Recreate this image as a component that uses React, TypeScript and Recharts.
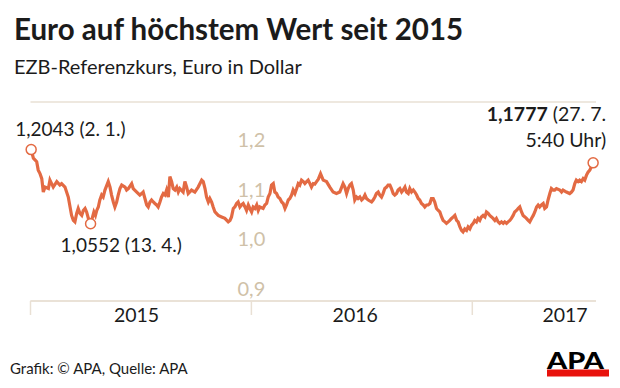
import { LineChart, Line, XAxis, YAxis, CartesianGrid, ReferenceDot } from "recharts";

// ECB reference rate, position within each year (0..1) and value in USD
const frac2015 = [
  0.003, 0.013, 0.028, 0.035, 0.043, 0.051, 0.058, 0.066, 0.081, 0.088, 0.103, 0.119, 0.133, 0.141, 0.156, 0.171,
  0.186, 0.194, 0.201, 0.209, 0.216, 0.224, 0.232, 0.239, 0.247, 0.254, 0.262, 0.272, 0.281, 0.287, 0.294, 0.3,
  0.307, 0.314, 0.322, 0.329, 0.337, 0.352, 0.36, 0.367, 0.375, 0.382, 0.39, 0.397, 0.405, 0.413, 0.428, 0.435,
  0.443, 0.458, 0.465, 0.481, 0.495, 0.503, 0.51, 0.518, 0.526, 0.533, 0.541, 0.548, 0.556, 0.563, 0.571, 0.578,
  0.586, 0.593, 0.601, 0.609, 0.616, 0.624, 0.631, 0.639, 0.646, 0.654, 0.662, 0.669, 0.676, 0.691, 0.699, 0.707,
  0.714, 0.729, 0.744, 0.759, 0.775, 0.782, 0.79, 0.797, 0.805, 0.812, 0.82, 0.827, 0.835, 0.85, 0.865, 0.88,
  0.895, 0.903, 0.91, 0.918, 0.925, 0.933, 0.94, 0.948, 0.955, 0.963, 0.971, 0.978, 0.986, 0.993,
];
const rate2015 = [
  1.2043, 1.187, 1.18, 1.163, 1.156, 1.146, 1.119, 1.129, 1.126, 1.143, 1.129, 1.14, 1.133, 1.136, 1.129, 1.109,
  1.072, 1.062, 1.059, 1.076, 1.086, 1.076, 1.072, 1.082, 1.086, 1.079, 1.066, 1.0552, 1.069, 1.079, 1.072, 1.082,
  1.089, 1.103, 1.113, 1.109, 1.123, 1.14, 1.129, 1.113, 1.099, 1.089, 1.099, 1.113, 1.126, 1.133, 1.129, 1.123,
  1.126, 1.136, 1.126, 1.119, 1.113, 1.116, 1.119, 1.106, 1.093, 1.089, 1.099, 1.103, 1.099, 1.096, 1.093, 1.089,
  1.099, 1.109, 1.116, 1.113, 1.123, 1.109, 1.15, 1.14, 1.126, 1.123, 1.129, 1.119, 1.126, 1.119, 1.14, 1.129,
  1.116, 1.123, 1.119, 1.129, 1.143, 1.14, 1.126, 1.109, 1.099, 1.106, 1.099, 1.089, 1.079, 1.072, 1.069, 1.066,
  1.059, 1.062, 1.069, 1.086, 1.089, 1.096, 1.099, 1.089, 1.093, 1.096, 1.089, 1.082, 1.093, 1.086,
];
const frac2016 = [
  0.001, 0.008, 0.016, 0.024, 0.031, 0.038, 0.053, 0.061, 0.069, 0.076, 0.084, 0.091, 0.099, 0.106, 0.114, 0.121,
  0.129, 0.137, 0.144, 0.152, 0.159, 0.167, 0.174, 0.182, 0.189, 0.197, 0.205, 0.212, 0.219, 0.227, 0.235, 0.242,
  0.25, 0.257, 0.265, 0.272, 0.28, 0.287, 0.295, 0.303, 0.313, 0.325, 0.34, 0.355, 0.37, 0.385, 0.4, 0.415,
  0.423, 0.431, 0.438, 0.446, 0.453, 0.461, 0.468, 0.476, 0.483, 0.491, 0.499, 0.506, 0.514, 0.521, 0.529, 0.544,
  0.551, 0.559, 0.566, 0.574, 0.581, 0.589, 0.596, 0.604, 0.612, 0.619, 0.627, 0.634, 0.642, 0.649, 0.657, 0.664,
  0.672, 0.68, 0.687, 0.695, 0.702, 0.71, 0.717, 0.725, 0.733, 0.74, 0.748, 0.755, 0.762, 0.77, 0.778, 0.785,
  0.793, 0.8, 0.808, 0.815, 0.823, 0.83, 0.838, 0.846, 0.853, 0.861, 0.868, 0.876, 0.883, 0.891, 0.898, 0.906,
  0.914, 0.921, 0.929, 0.936, 0.943, 0.951, 0.958, 0.966, 0.974, 0.981, 0.989, 0.996,
];
const rate2016 = [
  1.079, 1.089, 1.086, 1.093, 1.082, 1.089, 1.086, 1.093, 1.096, 1.109, 1.116, 1.133, 1.136, 1.119, 1.116, 1.109,
  1.106, 1.099, 1.096, 1.086, 1.093, 1.103, 1.106, 1.113, 1.123, 1.116, 1.126, 1.136, 1.133, 1.143, 1.14, 1.136,
  1.14, 1.143, 1.136, 1.129, 1.136, 1.135, 1.14, 1.145, 1.156, 1.143, 1.14, 1.129, 1.119, 1.116, 1.119, 1.136,
  1.129, 1.116, 1.126, 1.133, 1.136, 1.123, 1.103, 1.109, 1.106, 1.109, 1.103, 1.106, 1.113, 1.106, 1.103, 1.099,
  1.103, 1.109, 1.116, 1.119, 1.113, 1.109, 1.116, 1.126, 1.129, 1.133, 1.133, 1.126, 1.116, 1.113, 1.116, 1.123,
  1.126, 1.119, 1.123, 1.129, 1.119, 1.116, 1.126, 1.119, 1.123, 1.119, 1.113, 1.106, 1.103, 1.096, 1.093, 1.089,
  1.093, 1.093, 1.096, 1.106, 1.106, 1.099, 1.086, 1.082, 1.079, 1.069, 1.062, 1.059, 1.056, 1.059, 1.062, 1.066,
  1.069, 1.072, 1.062, 1.059, 1.05, 1.042, 1.039, 1.045, 1.042, 1.049, 1.045, 1.052,
];
const frac2017 = [
  0.004, 0.011, 0.019, 0.026, 0.034, 0.041, 0.049, 0.057, 0.064, 0.072, 0.079, 0.087, 0.094, 0.102, 0.109, 0.117,
  0.124, 0.132, 0.14, 0.147, 0.155, 0.162, 0.17, 0.177, 0.185, 0.192, 0.2, 0.208, 0.215, 0.223, 0.23, 0.238,
  0.245, 0.253, 0.26, 0.268, 0.276, 0.283, 0.291, 0.298, 0.305, 0.313, 0.321, 0.328, 0.336, 0.343, 0.351, 0.358,
  0.366, 0.373, 0.381, 0.396, 0.404, 0.411, 0.426, 0.441, 0.449, 0.456, 0.464, 0.471, 0.479, 0.486, 0.494, 0.502,
  0.509, 0.517, 0.524, 0.532, 0.547,
];
const rate2017 = [
  1.056, 1.062, 1.059, 1.066, 1.062, 1.069, 1.072, 1.069, 1.079, 1.076, 1.072, 1.069, 1.066, 1.062, 1.066, 1.059,
  1.056, 1.059, 1.056, 1.059, 1.056, 1.059, 1.062, 1.066, 1.072, 1.079, 1.082, 1.086, 1.089, 1.079, 1.072, 1.069,
  1.066, 1.062, 1.059, 1.066, 1.072, 1.079, 1.089, 1.093, 1.089, 1.093, 1.096, 1.086, 1.089, 1.103, 1.116, 1.126,
  1.123, 1.123, 1.126, 1.123, 1.119, 1.123, 1.119, 1.116, 1.119, 1.123, 1.136, 1.143, 1.14, 1.143, 1.14, 1.146,
  1.143, 1.153, 1.159, 1.163, 1.1777,
];

const yearTicks = [2015, 2016, 2017];
const yearLabels = ["2015", "2016", "2017"];
const yearLabelAt = [2015.48, 2016.47, 2017.42];
const yGrid = [0.9, 1.0, 1.1, 1.2, 1.3];
const yLabelValues = [0.9, 1.0, 1.1, 1.2];
const yLabelYear = 2016;

const startNote = "1,2043 (2. 1.)";
const lowNote = "1,0552 (13. 4.)";
const endNoteBold = "1,1777";
const endNoteRest = " (27. 7.";
const endNoteLine2 = "5:40 Uhr)";

const data2015 = frac2015.map((f, i) => ({ t: 2015 + f, v: rate2015[i] }));
const data = [
  ...data2015,
  ...frac2016.map((f, i) => ({ t: 2016 + f, v: rate2016[i] })),
  ...frac2017.map((f, i) => ({ t: 2017 + f, v: rate2017[i] })),
];
const firstPt = data[0];
const lastPt = data[data.length - 1];
const lowPt = data2015.reduce((m, d) => (d.v < m.v ? d : m), data2015[0]);

const FONT = "Lato, 'Open Sans', sans-serif";
const ORANGE = "#e36a43";
const GRID = "#e9e0d4";
const TAN = "#cfc1a8";
const INK = "#1b1b1b";

const center = (vb: any) => ({ cx: vb.x + vb.width / 2, cy: vb.y + vb.height / 2 });

const StartLabel = (props: any) => {
  const { cx, cy } = center(props.viewBox);
  return (
    <text x={cx - 16} y={cy - 14} fontSize={19} fill={INK} fontFamily={FONT}>
      {startNote}
    </text>
  );
};

const LowLabel = (props: any) => {
  const { cx, cy } = center(props.viewBox);
  return (
    <text x={cx - 30} y={cy + 28} fontSize={19} fill={INK} fontFamily={FONT}>
      {lowNote}
    </text>
  );
};

const EndLabel = (props: any) => {
  const { cx, cy } = center(props.viewBox);
  return (
    <g fontFamily={FONT} fontSize={19.5} fill={INK}>
      <text x={cx + 13} y={cy - 42} textAnchor="end">
        <tspan fontWeight={700}>{endNoteBold}</tspan>
        <tspan>{endNoteRest}</tspan>
      </text>
      <text x={cx + 13} y={cy - 16} textAnchor="end">
        {endNoteLine2}
      </text>
    </g>
  );
};

const YearLabel = (props: any) => {
  const { cx, cy } = center(props.viewBox);
  return (
    <text x={cx} y={cy + 21} textAnchor="middle" fontSize={19.5} fill={INK} fontFamily={FONT}>
      {props.text}
    </text>
  );
};

const fmt = (v: number) => v.toFixed(1).replace(".", ",");

export default function App() {
  return (
    <div style={{ position: "relative", width: 620, height: 388, background: "#fff", overflow: "hidden" }}>
      <style>{"body{margin:0}"}</style>
      <LineChart width={620} height={388} data={data} margin={{ top: 102, right: 24, bottom: 57, left: 30.5 }}>
        <CartesianGrid vertical={false} stroke={GRID} strokeWidth={1.3} />
        <XAxis
          type="number"
          dataKey="t"
          domain={[2015, 2017.56]}
          ticks={yearTicks}
          tickFormatter={() => ""}
          tickSize={14}
          height={30}
          axisLine={{ stroke: GRID, strokeWidth: 1.5 }}
          tickLine={{ stroke: GRID, strokeWidth: 1.5 }}
          allowDataOverflow
        />
        <YAxis
          type="number"
          domain={[0.9, 1.3]}
          ticks={yGrid}
          width={0}
          tick={false}
          axisLine={false}
          tickLine={false}
          allowDataOverflow
        />
        <Line type="linear" dataKey="v" stroke={ORANGE} strokeWidth={3.2} dot={false} isAnimationActive={false} />
        {yLabelValues.map((v) => (
          <ReferenceDot
            key={`y${v}`}
            x={yLabelYear}
            y={v}
            r={0}
            fill="none"
            stroke="none"
            label={{ value: fmt(v), position: "top", offset: 5, fill: TAN, fontSize: 20, fontFamily: FONT }}
          />
        ))}
        {yearLabelAt.map((t, i) => (
          <ReferenceDot
            key={`yr${t}`}
            x={t}
            y={0.9}
            r={0}
            fill="none"
            stroke="none"
            label={<YearLabel text={yearLabels[i]} />}
          />
        ))}
        <ReferenceDot x={firstPt.t} y={firstPt.v} r={5} fill="#fff" stroke={ORANGE} strokeWidth={1.5} label={<StartLabel />} />
        <ReferenceDot x={lowPt.t} y={lowPt.v} r={5} fill="#fff" stroke={ORANGE} strokeWidth={1.5} label={<LowLabel />} />
        <ReferenceDot x={lastPt.t} y={lastPt.v} r={5} fill="#fff" stroke={ORANGE} strokeWidth={1.5} label={<EndLabel />} />
      </LineChart>
      <svg width={620} height={388} style={{ position: "absolute", left: 0, top: 0, pointerEvents: "none" }} fontFamily={FONT}>
        <text x={14} y={40} fontSize={29.5} fontWeight={700} fill={INK}>
          Euro auf höchstem Wert seit 2015
        </text>
        <text x={14} y={74} fontSize={20} fill={INK}>
          EZB-Referenzkurs, Euro in Dollar
        </text>
        <text x={10} y={374} fontSize={15} fill={INK}>
          Grafik: © APA, Quelle: APA
        </text>
        <text x={547} y={369} fontSize={22} fontWeight={900} fill="#000" textLength={57} lengthAdjust="spacingAndGlyphs">
          APA
        </text>
        <rect x={547} y={369.5} width={62} height={7} fill="#e8120c" />
      </svg>
    </div>
  );
}
